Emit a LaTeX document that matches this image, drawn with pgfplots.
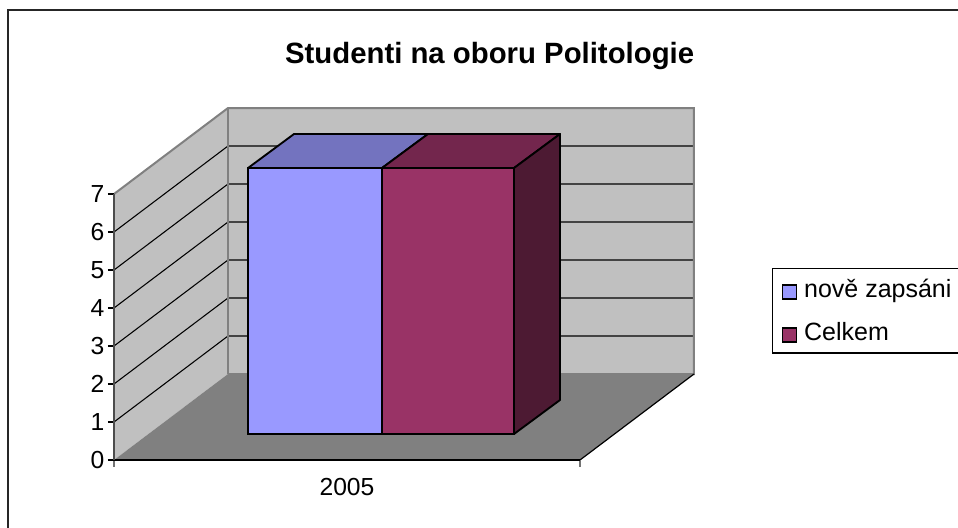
\documentclass[border=0pt]{standalone}
\usepackage{fontspec}
\setmainfont{Liberation Sans}
\usepackage{pgfplots}
\pgfplotsset{compat=1.18}
\definecolor{wall}{HTML}{C0C0C0}
\definecolor{floorc}{HTML}{808080}
\definecolor{blueF}{HTML}{9999FF}
\definecolor{blueT}{HTML}{7373BF}
\definecolor{plumF}{HTML}{993366}
\definecolor{plumT}{HTML}{73264D}
\definecolor{plumS}{HTML}{4D1A33}
\pgfplotsset{
  face/.style={forget plot,draw=none,mark=none},
  gridl/.style={forget plot,black,line width=0.8pt,mark=none},
  edge/.style={forget plot,floorc,line width=1.5pt,mark=none},
  barface/.style={forget plot,draw=black,line width=1.4pt,line join=round,mark=none},
  sqlegend/.style={legend image code/.code={
    \draw[##1,line width=1.1pt] (3.5pt,-20.5pt) rectangle (14pt,-10pt);}},
}
\begin{document}
\begin{tikzpicture}
\path[use as bounding box] (0,0) rectangle (718.5pt,396pt);
\draw[black!85,line width=1.1pt] (6pt,0) -- (6pt,388.5pt) -- (718.5pt,388.5pt);
\begin{axis}[
  at={(85.5pt,51pt)},anchor=south west,
  scale only axis,width=349.5pt,height=199.5pt,
  xmin=-0.5,xmax=0.5,ymin=0,ymax=7,
  clip=false,axis on top=true,
  axis x line*=bottom,axis y line*=left,
  axis line style={-},
  x axis line style={black,line width=0.9pt},
  y axis line style={black!70,line width=1.4pt},
  xtick={0},xticklabels={2005},
  minor xtick={-0.5,0.5},
  ytick={0,1,2,3,4,5,6,7},
  tick align=outside,
  major x tick style={draw=none},
  minor x tick style={black!55,line width=1.1pt},
  minor tick length=5pt,
  y tick style={black,line width=0.8pt},
  major tick length=4.5pt,
  /pgf/number format/assume math mode=true,
  tick label style={font=\fontsize{18.5pt}{20pt}\selectfont},
  xticklabel style={yshift=-6pt},
  yticklabel style={xshift=0.8pt},
  title={\textbf{Studenti na oboru Politologie}},
  title style={at={(0.806,1.489)},anchor=center,font=\fontsize{22pt}{24pt}\selectfont},
  legend style={at={(1.412,0.722)},anchor=north west,draw=black,line width=1pt,
    font=\fontsize{18.75pt}{21pt}\selectfont,inner xsep=7pt,inner ysep=6pt,
    row sep=13pt,cells={anchor=base west}},
]
% walls and floor
\addplot[face,fill=wall] coordinates {(-0.2554,2.263)(0.7446,2.263)(0.7446,9.263)(-0.2554,9.263)};
\addplot[face,fill=wall] coordinates {(-0.5,0)(-0.2554,2.263)(-0.2554,9.263)(-0.5,7)};
\addplot[face,fill=floorc] coordinates {(-0.5,0)(0.5,0)(0.7446,2.263)(-0.2554,2.263)};
% gridlines
\addplot[gridl] coordinates {(-0.5,1)(-0.2554,3.263)(0.7446,3.263)};
\addplot[gridl] coordinates {(-0.5,2)(-0.2554,4.263)(0.7446,4.263)};
\addplot[gridl] coordinates {(-0.5,3)(-0.2554,5.263)(0.7446,5.263)};
\addplot[gridl] coordinates {(-0.5,4)(-0.2554,6.263)(0.7446,6.263)};
\addplot[gridl] coordinates {(-0.5,5)(-0.2554,7.263)(0.7446,7.263)};
\addplot[gridl] coordinates {(-0.5,6)(-0.2554,8.263)(0.7446,8.263)};
% wall edges
\addplot[edge] coordinates {(-0.5,7)(-0.2554,9.263)(0.7446,9.263)(0.7446,2.263)(-0.2554,2.263)};
\addplot[edge] coordinates {(-0.2554,9.263)(-0.2554,2.263)};
\addplot[forget plot,black,line width=0.9pt,mark=none] coordinates {(0.5,0)(0.7446,2.263)};
% bars, value 7
\addplot[ybar,bar width=100.5pt,bar shift=-24pt,yshift=19.5pt,
  fill=blueF,draw=black,line width=1.4pt,sqlegend] coordinates {(0,7)};
\addlegendentry{\rule{3pt}{0pt}nově zapsáni\rule{30pt}{0pt}}
\addplot[ybar,bar width=99pt,bar shift=75.75pt,yshift=19.5pt,
  fill=plumF,draw=black,line width=1.4pt,sqlegend] coordinates {(0,7)};
\addlegendentry{\rule{3pt}{0pt}Celkem}
% depth faces of the bars
\addplot[barface,fill=blueT] coordinates {(-0.2124,7.684)(0.0751,7.684)(0.1738,8.579)(-0.1137,8.579)(-0.2124,7.684)};
\addplot[barface,fill=plumT] coordinates {(0.0751,7.684)(0.3584,7.684)(0.4571,8.579)(0.1738,8.579)(0.0751,7.684)};
\addplot[barface,fill=plumS] coordinates {(0.3584,0.684)(0.4571,1.579)(0.4571,8.579)(0.3584,7.684)(0.3584,0.684)};
\end{axis}
\end{tikzpicture}
\end{document}
